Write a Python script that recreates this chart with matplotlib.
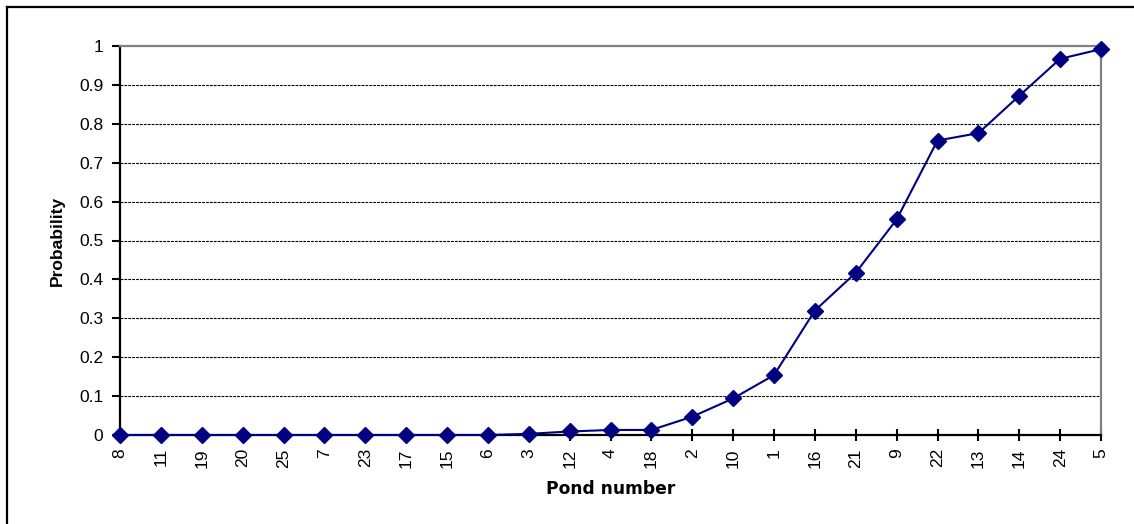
import matplotlib
matplotlib.use("Agg")
import matplotlib.pyplot as plt
from matplotlib.lines import Line2D

plt.rcParams['font.family'] = ['Liberation Sans', 'DejaVu Sans']

ponds = ["8", "11", "19", "20", "25", "7", "23", "17", "15", "6", "3", "12", "4",
         "18", "2", "10", "1", "16", "21", "9", "22", "13", "14", "24", "5"]
prob = [0.0, 0.0, 0.0, 0.0, 0.0, 0.0, 0.0, 0.0, 0.0, 0.0, 0.003, 0.009, 0.013,
        0.013, 0.047, 0.094, 0.154, 0.320, 0.417, 0.554, 0.757, 0.776, 0.872,
        0.967, 0.992]
yticks = [0, 0.1, 0.2, 0.3, 0.4, 0.5, 0.6, 0.7, 0.8, 0.9, 1]
ytick_labels = ["0", "0.1", "0.2", "0.3", "0.4", "0.5", "0.6", "0.7", "0.8", "0.9", "1"]

W, H = 1134, 524
fig = plt.figure(figsize=(W / 100, H / 100), dpi=100)
ax = fig.add_axes([120 / W, 1 - 435 / H, (1101 - 120) / W, (435 - 46) / H])

x = list(range(len(ponds)))
ax.plot(x, prob, color="#000080", linewidth=1.5, marker="D", markersize=8,
        markerfacecolor="#000080", markeredgecolor="#000080", zorder=5, clip_on=False)

ax.set_xlim(0, len(ponds) - 1)
ax.set_ylim(0, 1)
ax.set_xticks(x)
ax.set_xticklabels(ponds, rotation=90, fontsize=12.5)
ax.set_yticks(yticks)
ax.set_yticklabels(ytick_labels, fontsize=12.5)

# dashed gridlines (not at 0 or 1)
for yv in yticks[1:-1]:
    ax.axhline(yv, color="black", linewidth=0.8, linestyle=(0, (2.5, 1)), zorder=1)

for s in ["left", "bottom"]:
    ax.spines[s].set_color("black")
    ax.spines[s].set_linewidth(1.6)
for s in ["top", "right"]:
    ax.spines[s].set_color("#808080")
    ax.spines[s].set_linewidth(1.6)

ax.tick_params(axis="y", direction="out", length=6, width=1.5, pad=6)
ax.tick_params(axis="x", direction="inout", length=9, width=1.5, pad=5)

ax.set_ylabel("Probability", fontsize=12.5, fontweight="bold", labelpad=10)
# the x label is letter-spaced in the original; DejaVu's wider glyphs get close
ax.set_xlabel("Pond number", fontsize=12.3, fontweight="bold", labelpad=9,
              family="DejaVu Sans")

# outer chart frame (top and left edges visible)
fig.add_artist(Line2D([6.5 / W, 1], [1 - 6.5 / H, 1 - 6.5 / H], color="black",
                      linewidth=1.6, transform=fig.transFigure))
fig.add_artist(Line2D([6.5 / W, 6.5 / W], [0, 1 - 6.5 / H], color="black",
                      linewidth=1.6, transform=fig.transFigure))

fig.savefig("out.png", dpi=100)
